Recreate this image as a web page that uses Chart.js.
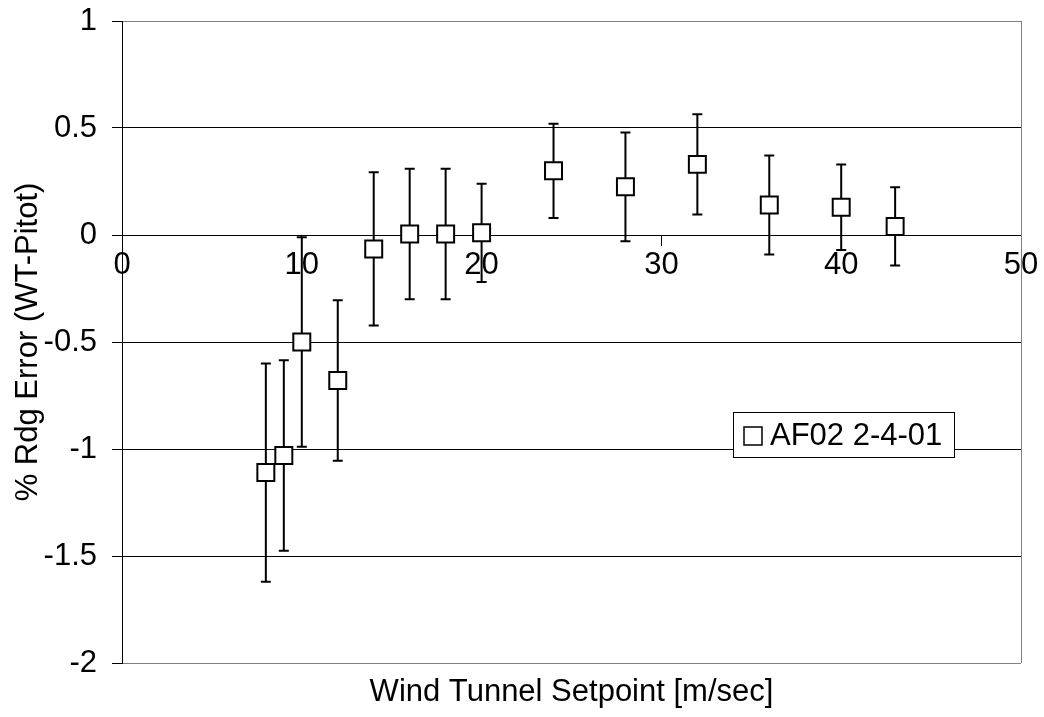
<!DOCTYPE html>
<html>
<head>
<meta charset="utf-8">
<script src="https://cdn.jsdelivr.net/npm/chart.js@4.4.1/dist/chart.umd.min.js"></script>
<style>
   html, body { margin: 0; padding: 0; background: #fff; }
   #wrap { width: 1044px; height: 717px; }
</style>
</head>
<body>
<div id="wrap"><canvas id="myChart"></canvas></div>
<script>
// ==========================================
// Data
// ==========================================

const seriesName = "AF02 2-4-01";
const setpoints = [8, 9, 10, 12, 14, 16, 18, 20, 24, 28, 32, 36, 40, 43];
const rdgError = [-1.11, -1.03, -0.50, -0.68, -0.065, 0.005, 0.005, 0.01, 0.30, 0.225, 0.33, 0.14, 0.13, 0.04];
const errBars = [0.51, 0.445, 0.49, 0.375, 0.358, 0.305, 0.305, 0.23, 0.22, 0.254, 0.234, 0.231, 0.20, 0.183];
const xTicks = [0, 10, 20, 30, 40, 50];
const yTicks = [-2, -1.5, -1, -0.5, 0, 0.5, 1];

const xTitle = "Wind Tunnel Setpoint [m/sec]";
const yTitle = "% Rdg Error (WT-Pitot)";

const fontFamily = "'Liberation Sans', Arial, sans-serif";
const font = { family: fontFamily, size: 31 };

// ==========================================
// Plugins
// ==========================================

// error bars, drawn under the markers
const errorBars = {
   id: "errorBars",
   beforeDatasetsDraw(chart) {
      const c = chart.ctx;
      const xs = chart.scales.x;
      const ys = chart.scales.y;
      const area = chart.chartArea;
      c.save();
      // grey right border of the plot area
      c.strokeStyle = "#808080";
      c.lineWidth = 1;
      c.beginPath();
      c.moveTo(area.right + 0.5, area.top);
      c.lineTo(area.right + 0.5, area.bottom);
      c.stroke();

      c.strokeStyle = "#000";
      c.lineWidth = 2;
      setpoints.forEach((sx, i) => {
         const px = xs.getPixelForValue(sx);
         const top = ys.getPixelForValue(rdgError[i] + errBars[i]);
         const bot = ys.getPixelForValue(rdgError[i] - errBars[i]);
         c.beginPath();
         c.moveTo(px, top);
         c.lineTo(px, bot);
         c.moveTo(px - 5, top);
         c.lineTo(px + 5, top);
         c.moveTo(px - 5, bot);
         c.lineTo(px + 5, bot);
         c.stroke();
      });
      c.restore();
   }
};

// x title at the bottom and the boxed legend
const extras = {
   id: "extras",
   afterDraw(chart) {
      const c = chart.ctx;
      const area = chart.chartArea;
      c.save();
      c.fillStyle = "#000";
      c.font = font.size + "px " + fontFamily;
      c.textAlign = "center";
      c.textBaseline = "middle";
      c.fillText(xTitle, (area.left + area.right) / 2, 692);

      // legend
      c.fillStyle = "#fff";
      c.fillRect(733, 412, 221, 45);
      c.strokeStyle = "#000";
      c.lineWidth = 1;
      c.strokeRect(733.5, 412.5, 221, 45);
      c.lineWidth = 1.5;
      c.strokeRect(744, 427, 18, 18);
      c.fillStyle = "#000";
      c.textAlign = "left";
      c.fillText(seriesName, 770, 436);
      c.restore();
   }
};

// ==========================================
// Chart
// ==========================================

const ctx = document.getElementById("myChart");

let chart = new Chart(ctx, {
   type: "scatter",
   data: {
      datasets: [{
         label: seriesName,
         data: setpoints.map((x, i) => ({ x: x, y: rdgError[i] })),
         pointStyle: "rect",
         pointRadius: 12,
         pointHoverRadius: 12,
         pointBorderWidth: 2,
         pointBorderColor: "#000",
         pointBackgroundColor: "#fff",
         showLine: false
      }]
   },
   options: {
      responsive: true,
      maintainAspectRatio: false,
      animation: false,
      events: [],
      layout: { padding: { left: 0, top: 21, right: 23, bottom: 54 } },
      plugins: {
         legend: { display: false },
         tooltip: { enabled: false }
      },
      scales: {
         x: {
            type: "linear",
            position: { y: 0 },
            min: 0,
            max: 50,
            afterBuildTicks: (axis) => { axis.ticks = xTicks.map((v) => ({ value: v })); },
            grid: { drawOnChartArea: false, drawTicks: true, tickLength: 10, color: "#000" },
            border: { color: "#000", width: 1 },
            ticks: { color: "#000", font: font, padding: 2, maxRotation: 0, autoSkip: false, callback: (v) => String(v) }
         },
         y: {
            type: "linear",
            position: "left",
            min: -2,
            max: 1,
            afterBuildTicks: (axis) => { axis.ticks = yTicks.map((v) => ({ value: v })); },
            afterFit: (axis) => {
               axis.width = 122;
               axis.paddingTop = 0;
               axis.paddingBottom = 0;
            },
            grid: {
               color: (c) => (c.tick && (c.tick.value === 1 || c.tick.value === -2)) ? "#808080" : "#000",
               tickColor: "#000",
               tickLength: 10,
               lineWidth: 1
            },
            border: { color: "#000", width: 1 },
            ticks: { color: "#000", font: font, padding: 15, callback: (v) => String(v) },
            title: { display: true, text: yTitle, color: "#000", font: font, padding: { top: 10, bottom: 0 } }
         }
      }
   },
   plugins: [errorBars, extras]
});
</script>
</body>
</html>
